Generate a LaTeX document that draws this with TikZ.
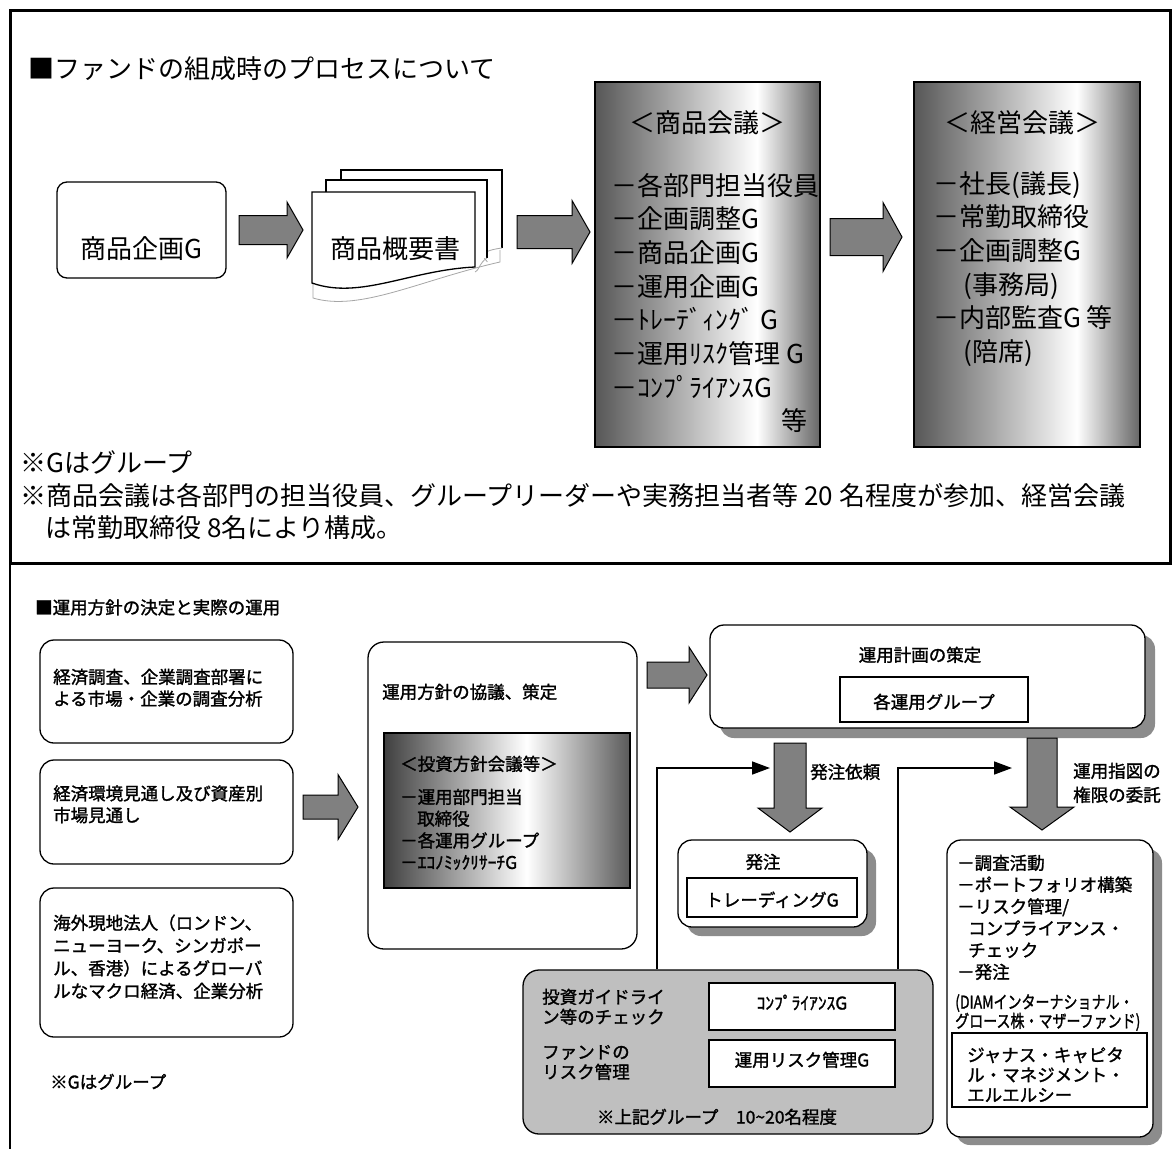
\documentclass[tikz,border=0pt]{standalone}
\usepackage{fontspec}
\usepackage{graphicx}
\setmainfont{Noto Sans CJK JP}
\newfontfamily\jpbold[FakeBold=1.5]{Noto Sans CJK JP}
\usetikzlibrary{arrows.meta}
\newcommand\TopF{\fontsize{26}{33.7}\selectfont}
\newcommand\BotF{\jpbold\fontsize{17.5}{21.8}\selectfont}
\pgfdeclarehorizontalshading{silvtop}{100bp}{color(0bp)=(black!66); color(25bp)=(black!66); color(61bp)=(white); color(75bp)=(black!60); color(100bp)=(black!60)}
\pgfdeclarehorizontalshading{silvbot}{100bp}{color(0bp)=(black!75); color(25bp)=(black!75); color(54bp)=(white); color(75bp)=(black!65); color(100bp)=(black!65)}
% right block arrow: x1 x2 yc shafthalf headhalf headlen
\newcommand\RArr[6]{\draw[barrow] (#1,#3-#4) -- (#2-#6,#3-#4) -- (#2-#6,#3-#5) -- (#2,#3) -- (#2-#6,#3+#5) -- (#2-#6,#3+#4) -- (#1,#3+#4) -- cycle;}
% down block arrow: xc ytop shafthalf headhalf ybase ytip
\newcommand\DArr[6]{\draw[barrow] (#1-#3,#2) -- (#1+#3,#2) -- (#1+#3,#5) -- (#1+#4,#5) -- (#1,#6) -- (#1-#4,#5) -- (#1-#3,#5) -- cycle;}
\begin{document}
\begin{tikzpicture}[x=1pt,y=-1pt,
  box/.style={draw, line width=1.3pt, fill=white, inner sep=0pt},
  gbox/.style={draw, line width=1.5pt, inner sep=0pt},
  barrow/.style={draw, line width=1pt, fill=black!50},
  txt/.style={inner sep=0pt, anchor=base west},
  ctxt/.style={inner sep=0pt, anchor=base},
  conn/.style={line width=1.6pt, -{Triangle[length=18pt,width=13pt]}},
  shad/.style={fill=black!45, rounded corners=14pt}]
\useasboundingbox (0,0) rectangle (1174,1149);
\fill[white] (0,0) rectangle (1174,1149);
\draw[line width=3pt] (10,10) rectangle (1170,563);
\draw[line width=2pt] (10,563) -- (10,1149);

% ---------- top section ----------
\node[txt] (title1) at (28,78) {\TopF ■ファンドの組成時のプロセスについて};

\node[box, rounded corners=10pt, minimum width=169pt, minimum height=96pt] (kikaku) at (141.5,230) {};
\node[ctxt] (kikakuT) at (141.5,258) {\TopF 商品企画G};

\RArr{239}{303}{230}{14.5}{28}{16}

% document stack
\draw[black!35, line width=0.8pt] (313,283) -- (313,298) .. controls (360,312) and (420,280) .. (500,262) -- (500,250);
\fill[white] (341,261) -- (341,170) -- (502,170) -- (502,248) .. controls (440,250) and (390,276) .. cycle;
\draw[line width=1.3pt] (341,180) -- (341,170) -- (502,170) -- (502,248);
\draw[black!35, line width=0.8pt] (502,248) .. controls (470,252) and (490,262) .. (487,262);
\fill[white] (326,271) -- (326,180) -- (487,180) -- (487,258) .. controls (430,260) and (380,286) .. cycle;
\draw[line width=1.3pt] (326,192) -- (326,180) -- (487,180) -- (487,258);
\draw[black!35, line width=0.8pt] (487,258) .. controls (480,262) and (478,272) .. (475,272);
\draw[line width=1.3pt, fill=white] (312,283) -- (312,192) -- (475,192) -- (475,267) .. controls (410,270) and (360,300) .. (312,283) -- cycle;
\node[ctxt] (gaiyoT) at (395,258) {\TopF 商品概要書};

\RArr{517}{590}{232}{16.5}{31.5}{18}

\node[gbox, shading=silvtop, minimum width=225pt, minimum height=365pt] (shohin) at (707.5,264.5) {};
\node[ctxt] (shohinH) at (707,132) {\TopF ＜商品会議＞};
\node[txt] (shohinL) at (611,195) {\parbox[t]{240pt}{\TopF －各部門担当役員\\－企画調整G\\－商品企画G\\－運用企画G\\－ﾄﾚｰﾃﾞｨﾝｸﾞ G\\－運用ﾘｽｸ管理 G\\－ｺﾝﾌﾟﾗｲｱﾝｽG\\\hspace*{170pt}等}};

\RArr{830}{902}{237}{18.5}{34.5}{19}

\node[gbox, shading=silvtop, minimum width=226pt, minimum height=365pt] (keiei) at (1027,264.5) {};
\node[ctxt] (keieiH) at (1022,132) {\TopF ＜経営会議＞};
\node[txt] (keieiL) at (933,193) {\parbox[t]{220pt}{\TopF －社長(議長)\\－常勤取締役\\－企画調整G\\\hspace*{30pt}(事務局)\\－内部監査G 等\\\hspace*{30pt}(陪席)}};

\node[txt] (note1) at (20,472) {\TopF ※Gはグループ};
\node[txt] (note2) at (20,505) {\TopF ※商品会議は各部門の担当役員、グループリーダーや実務担当者等 20 名程度が参加、経営会議};
\node[txt] (note3) at (45,537) {\TopF は常勤取締役 8名により構成。};

% ---------- bottom section ----------
\node[txt] (title2) at (35,614) {\BotF ■運用方針の決定と実際の運用};

\node[box, rounded corners=14pt, minimum width=253pt, minimum height=103pt] (ra) at (166.5,691.5) {};
\node[txt] (raT) at (53,683.5) {\parbox[t]{240pt}{\BotF 経済調査、企業調査部署に\\よる市場・企業の調査分析}};

\node[box, rounded corners=14pt, minimum width=253pt, minimum height=104pt] (rb) at (166.5,812) {};
\node[txt] (rbT) at (53,800) {\parbox[t]{240pt}{\BotF 経済環境見通し及び資産別\\市場見通し}};

\node[box, rounded corners=14pt, minimum width=253pt, minimum height=149pt] (rc) at (166.5,962.5) {};
\node[txt] (rcT) at (53,929.5) {\parbox[t]{240pt}{\fontsize{17.5}{22.7}\selectfont\jpbold 海外現地法人（ロンドン、\\ニューヨーク、シンガポー\\ル、香港）によるグローバ\\ルなマクロ経済、企業分析}};

\node[txt] (note4) at (50,1088.5) {\BotF ※Gはグループ};

\RArr{303}{358}{807}{12}{32.5}{20}

\node[box, rounded corners=16pt, minimum width=269pt, minimum height=307pt] (policy) at (502.5,795.5) {};
\node[txt] (policyT) at (382,698.5) {\BotF 運用方針の協議、策定};
\node[gbox, line width=1.3pt, shading=silvbot, minimum width=246pt, minimum height=155pt] (iho) at (507,810.5) {};
\node[txt] (ihoH) at (400,770.5) {\BotF ＜投資方針会議等＞};
\node[txt] (ihoL) at (400,803.5) {\parbox[t]{220pt}{\BotF －運用部門担当\\\hspace*{17pt}取締役\\－各運用グループ\\－ｴｺﾉﾐｯｸﾘｻｰﾁG}};

\RArr{647}{707}{675}{13}{28}{18}

\fill[shad] (720,635) rectangle (1155,738);
\node[box, rounded corners=14pt, minimum width=435pt, minimum height=103pt] (plan) at (927.5,676.5) {};
\node[ctxt] (planT) at (920,661.5) {\BotF 運用計画の策定};
\node[box, line width=1.2pt, minimum width=188pt, minimum height=45pt] (planIn) at (934,699.5) {};
\node[ctxt] (planInT) at (934,708.5) {\BotF 各運用グループ};

\DArr{790}{743}{16}{32}{808}{832}
\node[txt] (irai) at (810,778.5) {\BotF 発注依頼};
\DArr{1042}{738}{15}{32}{807}{830}
\node[txt] (itakuL) at (1073,777.5) {\parbox[t]{100pt}{\fontsize{17.5}{24}\selectfont\jpbold 運用指図の\\権限の委託}};

\fill[shad] (687,849) rectangle (876,936);
\node[box, rounded corners=14pt, minimum width=189pt, minimum height=87pt] (hatchu) at (772.5,883.5) {};
\node[ctxt] (hatchuT) at (763,868.5) {\BotF 発注};
\node[box, line width=1.2pt, minimum width=170pt, minimum height=39pt] (trade) at (772,897.5) {};
\node[ctxt] (tradeT) at (772,906.5) {\BotF トレーディングG};

\node[box, fill=black!25, rounded corners=16pt, minimum width=410pt, minimum height=164pt] (guide) at (728,1052) {};
\node[txt] (guideT1) at (542,1003.5) {\parbox[t]{160pt}{\fontsize{17.5}{20}\selectfont\jpbold 投資ガイドライ\\ン等のチェック}};
\node[txt] (guideT2) at (542,1058.5) {\parbox[t]{160pt}{\fontsize{17.5}{20}\selectfont\jpbold ファンドの\\リスク管理}};
\node[box, line width=1.2pt, minimum width=186pt, minimum height=47pt] (comp) at (802,1006.5) {};
\node[ctxt] (compT) at (802,1009.5) {\BotF ｺﾝﾌﾟﾗｲｱﾝｽG};
\node[box, line width=1.2pt, minimum width=186pt, minimum height=47pt] (risk) at (802,1063.5) {};
\node[ctxt] (riskT) at (802,1066.5) {\BotF 運用リスク管理G};
\node[ctxt] (guideN) at (717,1123.5) {\BotF ※上記グループ　10\textasciitilde 20名程度};

\fill[shad] (956,849) rectangle (1162,1145);
\node[box, rounded corners=14pt, minimum width=206pt, minimum height=297pt] (itaku) at (1050,988.5) {};
\node[txt] (itakuT) at (957,869.5) {\parbox[t]{200pt}{\BotF －調査活動\\－ポートフォリオ構築\\－リスク管理/\\\hspace*{11pt}コンプライアンス・\\\hspace*{11pt}チェック\\－発注}};
\node[txt] (diam1) at (955,1008.5) {\BotF\scalebox{0.8}[1]{(DIAMインターナショナル・}};
\node[txt] (diam2) at (955,1027.5) {\BotF\scalebox{0.8}[1]{グロース株・マザーファンド)}};
\node[box, line width=1.2pt, minimum width=195pt, minimum height=74pt] (janus) at (1049.5,1070) {};
\node[txt] (janusT) at (967,1061.5) {\parbox[t]{180pt}{\fontsize{17.5}{20}\selectfont\jpbold ジャナス・キャピタ\\ル・マネジメント・\\エルエルシー}};

% connectors
\coordinate (k1) at (657,768);
\coordinate (t1) at (770,768);
\coordinate (k2) at (898,768);
\coordinate (t2) at (1012,768);
\draw[conn] (guide.north -| k1) -- (k1) -- (t1);
\draw[conn] (guide.north -| k2) -- (k2) -- (t2);
\end{tikzpicture}
\end{document}
